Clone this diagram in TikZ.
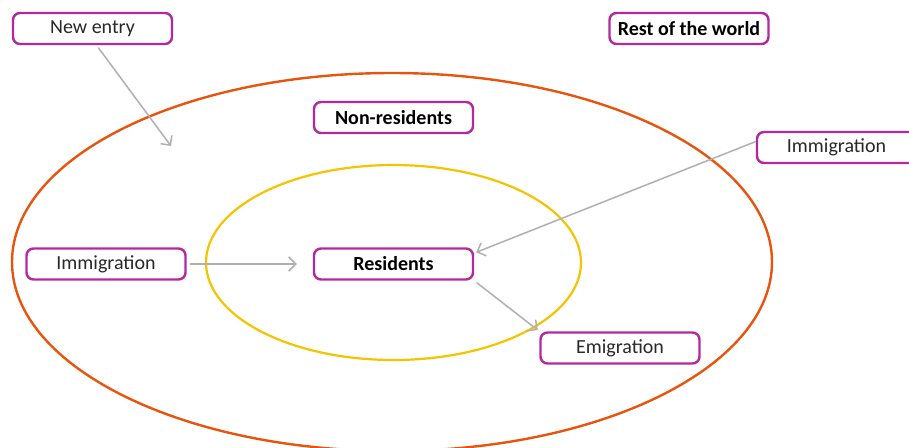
\documentclass[tikz,border=0pt]{standalone}
\usepackage{fontspec}
\setmainfont{Carlito}
\usetikzlibrary{arrows.meta}
\definecolor{boxmag}{RGB}{178,40,160}
\definecolor{outorange}{RGB}{232,84,14}
\definecolor{inyellow}{RGB}{245,196,0}
\definecolor{flowgray}{RGB}{176,176,176}
\definecolor{txt}{RGB}{40,40,40}
\begin{document}
\begin{tikzpicture}[x=1pt, y=-1pt, font=\fontsize{20}{23}\selectfont, text=txt,
  box/.style={draw=boxmag, line width=2.4pt, rounded corners=7pt, fill=white,
    minimum width=159pt, minimum height=31pt, inner sep=0pt},
  title/.style={font=\fontsize{20}{23}\selectfont\bfseries, text=black},
  flow/.style={draw=flowgray, line width=1.5pt, -{Straight Barb[length=7pt, width=14pt]}}]
  \clip (0,0) rectangle (909,447);
  \fill[white] (0,0) rectangle (909,447);
  % ellipses
  \draw[outorange, line width=2.4pt] (392,262) ellipse [x radius=380, y radius=189];
  \draw[inyellow, line width=2.2pt] (393.5,262.5) ellipse [x radius=187.5, y radius=97.5];
  % boxes
  \node[box] (newentry) at (92.5,28.5) {New entry};
  \node[box, title] (world) at (689,28.5) {Rest of the world};
  \node[box, title] (nonres) at (393.5,117.5) {Non-residents};
  \node[box] (immR) at (836.5,147.5) {Immigration};
  \node[box] (immL) at (106,264) {Immigration};
  \node[box, title] (res) at (393.5,264) {Residents};
  \node[box] (emig) at (620,348) {Emigration};
  \coordinate (entry) at (171,146);
  % flows
  \draw[flow, shorten <=3pt] ([xshift=4pt]newentry.south) -- (entry);
  \draw[flow, shorten <=3pt, shorten >=16pt] (immL.east) -- (res.west);
  \draw[flow] ([yshift=6pt]immR.west) -- ([shift={(2pt,-5pt)}]res.north east);
  \draw[flow, shorten <=3pt, shorten >=2pt] (res.south east) -- (emig.north west);
\end{tikzpicture}
\end{document}
